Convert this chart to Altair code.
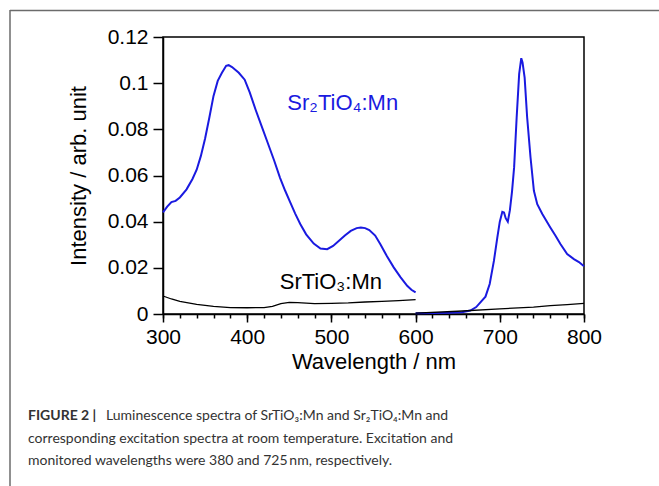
import altair as alt
import pandas as pd

# ---------------- data ----------------
# Sr2TiO4:Mn excitation spectrum (monitored at 725 nm)
sr2_exc_wl = [300, 305, 310, 315, 320, 328, 335, 340, 345, 350, 355, 360, 365, 370,
              375, 378, 382, 390, 397, 403, 410, 417, 424, 432, 439, 445, 451, 457,
              463, 470, 479, 487, 495, 502, 509, 516, 523, 530, 535, 540, 545, 552,
              558, 566, 574, 582, 590, 595, 600]
sr2_exc_int = [0.0440, 0.0465, 0.0485, 0.0490, 0.0505, 0.0540, 0.0585, 0.0625, 0.0685,
               0.0760, 0.0850, 0.0945, 0.1010, 0.1045, 0.1075, 0.1078, 0.1070, 0.1045,
               0.1015, 0.0960, 0.0885, 0.0815, 0.0745, 0.0665, 0.0590, 0.0535, 0.0485,
               0.0435, 0.0390, 0.0345, 0.0305, 0.0284, 0.0281, 0.0295, 0.0317, 0.0340,
               0.0360, 0.0372, 0.0375, 0.0372, 0.0364, 0.0340, 0.0303, 0.0250, 0.0202,
               0.0160, 0.0122, 0.0105, 0.0094]

# Sr2TiO4:Mn emission spectrum (excited at 380 nm)
sr2_em_wl = [600, 620, 640, 655, 665, 672, 678, 683, 688, 693, 697, 700, 703, 705,
             707, 709.5, 712, 714.5, 717, 720, 723, 725.5, 727, 729.5, 732.5, 736.5,
             740.5, 744.5, 750.5, 760, 766, 772, 780, 788, 794, 800]
sr2_em_int = [0.0003, 0.0004, 0.0005, 0.0008, 0.0015, 0.0030, 0.0055, 0.0075, 0.0130,
              0.0230, 0.0330, 0.0400, 0.0443, 0.0440, 0.0415, 0.0400, 0.0450, 0.0530,
              0.0635, 0.0850, 0.1040, 0.1108, 0.1090, 0.1024, 0.0851, 0.0678, 0.0534,
              0.0476, 0.0433, 0.0375, 0.0340, 0.0303, 0.0260, 0.0238, 0.0225, 0.0207]

# SrTiO3:Mn excitation spectrum
sr1_exc_wl = [300, 310, 320, 340, 360, 380, 400, 420, 430, 440, 450, 460, 480, 500,
              520, 540, 560, 580, 600]
sr1_exc_int = [0.0078, 0.0065, 0.0055, 0.0042, 0.0033, 0.0028, 0.0027, 0.0028, 0.0033,
               0.0045, 0.0050, 0.0049, 0.0045, 0.0046, 0.0048, 0.0052, 0.0055, 0.0058,
               0.0062]

# SrTiO3:Mn emission spectrum
sr1_em_wl = [600, 650, 700, 740, 760, 780, 800]
sr1_em_int = [0.0004, 0.0012, 0.0022, 0.0030, 0.0036, 0.0041, 0.0046]

x_major = [300, 400, 500, 600, 700, 800]
x_minor = list(range(300, 801, 20))
y_ticks = [0, 0.02, 0.04, 0.06, 0.08, 0.1, 0.12]

label_sr2 = "Sr\u2082TiO\u2084:Mn"
label_sr1 = "SrTiO\u2083:Mn"

caption_bold = "FIGURE 2 |"
caption_lines = [
    "Luminescence spectra of SrTiO\u2083:Mn and Sr\u2082TiO\u2084:Mn and",
    "corresponding excitation spectra at room temperature. Excitation and",
    "monitored wavelengths were 380 and 725\u2009nm, respectively.",
]

# ---------------- build tables ----------------
def seg(wl, val, name):
    return pd.DataFrame({"wavelength": wl, "intensity": val, "segment": name})

blue_df = pd.concat([seg(sr2_exc_wl, sr2_exc_int, "exc"), seg(sr2_em_wl, sr2_em_int, "em")])
black_df = pd.concat([seg(sr1_exc_wl, sr1_exc_int, "exc"), seg(sr1_em_wl, sr1_em_int, "em")])

FONT = "Liberation Sans"
CAP_FONT = "Lato"
BLUE = "#1a1ae0"

x_scale = alt.Scale(domain=[300, 800], nice=False, zero=False)
y_scale = alt.Scale(domain=[0, 0.12], nice=False)

y_axis = alt.Axis(values=y_ticks, labelExpr="format(datum.value, '.2~f')",
                  title="Intensity / arb. unit",
                  tickSize=10, labelPadding=5, titlePadding=17, grid=False,
                  labelFlush=False)
x_major_axis = alt.Axis(values=x_major, tickSize=8, labelPadding=4, orient="bottom",
                        title="Wavelength / nm", titlePadding=4, grid=False,
                        labelFlush=False)
x_minor_axis = alt.Axis(values=x_minor, tickSize=4, labels=False, domain=False,
                        orient="bottom", title=None, grid=False)

blue = alt.Chart(blue_df).mark_line(color=BLUE, strokeWidth=2).encode(
    x=alt.X("wavelength:Q", scale=x_scale, axis=x_major_axis),
    y=alt.Y("intensity:Q", scale=y_scale, axis=y_axis),
    detail="segment:N",
)
black = alt.Chart(black_df).mark_line(color="black", strokeWidth=1.3).encode(
    x=alt.X("wavelength:Q", scale=x_scale, axis=x_minor_axis),
    y=alt.Y("intensity:Q", scale=y_scale, axis=y_axis),
    detail="segment:N",
)

def label_layer(text, wl, val, color):
    df = pd.DataFrame({"label": [text], "wavelength": [wl], "intensity": [val]})
    return alt.Chart(df).mark_text(
        align="left", baseline="alphabetic", font=FONT, fontSize=22, color=color
    ).encode(
        x=alt.X("wavelength:Q", scale=x_scale, axis=None),
        y=alt.Y("intensity:Q", scale=y_scale, axis=y_axis),
        text="label:N",
    )

lab_sr2 = label_layer(label_sr2, 447.7, 0.0884, BLUE)
lab_sr1 = label_layer(label_sr1, 438.6, 0.0108, "black")

def text_px(text, px, py, bold=False):
    df = pd.DataFrame({"t": [text]})
    return alt.Chart(df).mark_text(
        align="left", baseline="alphabetic", font=CAP_FONT, fontSize=14,
        fontWeight="bold" if bold else "normal", color="#333333"
    ).encode(x=alt.value(px), y=alt.value(py), text="t:N")

cap0 = text_px(caption_bold, -135, 383, bold=True)
cap1 = text_px(caption_lines[0], -57, 383)
cap2 = text_px(caption_lines[1], -135, 405.5)
cap3 = text_px(caption_lines[2], -135, 427.5)

frame_df = pd.DataFrame({"k": [0]})
vline = alt.Chart(frame_df).mark_rule(color="#6b6b6b", strokeWidth=1.5).encode(
    x=alt.value(-153), y=alt.value(-27), y2=alt.value(460))
hline = alt.Chart(frame_df).mark_rule(color="#6b6b6b", strokeWidth=1.5).encode(
    x=alt.value(-153), x2=alt.value(500), y=alt.value(-26.5))

chart = alt.layer(
    blue, black, lab_sr2, lab_sr1, cap0, cap1, cap2, cap3, vline, hline
).resolve_axis(x="independent").properties(
    width=421, height=277,
    autosize=alt.AutoSizeParams(type="none"),
    padding={"left": 163, "top": 37, "right": 75, "bottom": 172},
).configure_view(
    stroke="black", strokeWidth=1.5
).configure_axis(
    domainColor="black", domainWidth=1.5, tickColor="black", tickWidth=1.5,
    labelFont=FONT, labelFontSize=21, labelColor="black",
    titleFont=FONT, titleFontSize=22, titleColor="black", titleFontWeight="normal",
)

chart.save("out.html", embed_options={"renderer": "svg", "actions": False})
